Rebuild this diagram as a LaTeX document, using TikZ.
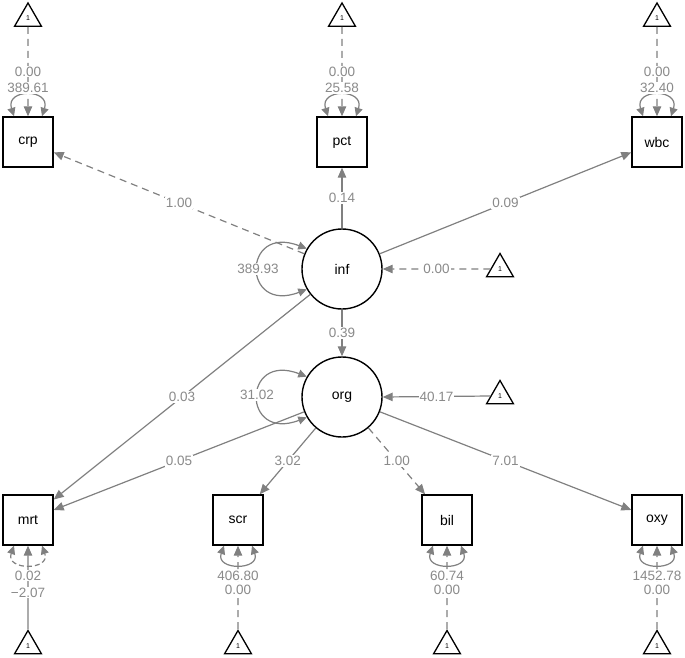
\documentclass[tikz,border=0pt]{standalone}
\usepackage{fontspec}
\setmainfont{Liberation Sans}
\usetikzlibrary{arrows.meta,shapes.geometric}
\definecolor{eg}{RGB}{128,128,128}
\definecolor{lg}{RGB}{138,138,138}
\begin{document}
\begin{tikzpicture}[x=1pt,y=-1pt,
  man/.style={draw=black, line width=1.4pt, minimum width=50pt, minimum height=50pt, inner sep=0pt, font=\fontsize{14}{16}\selectfont},
  lat/.style={circle, draw=black, line width=1.4pt, minimum size=80pt, inner sep=0pt, font=\fontsize{14}{16}\selectfont},
  tri/.style={regular polygon, regular polygon sides=3, draw=black, line width=1.3pt, minimum size=31pt, inner sep=0pt, font=\fontsize{7}{8}\selectfont},
  edge/.style={draw=eg, line width=1.2pt, -{Triangle[length=10pt,width=8.5pt]}},
  fixed/.style={dash pattern=on 7pt off 5pt},
  var/.style={draw=eg, line width=1.2pt, {Triangle[length=8.5pt,width=8pt]}-{Triangle[length=8.5pt,width=8pt]}},
  lab/.style={fill=white, text=lg, inner sep=1pt, font=\fontsize{13.5}{15}\selectfont}
]
\useasboundingbox (0,0) rectangle (685,658);

% manifest variables
\node[man] (crp) at (28,142) {crp};
\node[man] (pct) at (342,142) {pct};
\node[man] (wbc) at (657,142) {wbc};
\node[man] (mrt) at (28,520) {mrt};
\node[man] (scr) at (238,520) {scr};
\node[man] (bil) at (447,520) {bil};
\node[man] (oxy) at (657,520) {oxy};

% latent variables
\node[lat] (inf) at (342,269) {inf};
\node[lat] (org) at (342,397) {org};

% intercept triangles
\node[tri] (tcrp) at (28,18.5) {1};
\node[tri] (tpct) at (342,18.5) {1};
\node[tri] (twbc) at (657,18.5) {1};
\node[tri] (tinf) at (500,269) {1};
\node[tri] (torg) at (500,396) {1};
\node[tri] (tmrt) at (28,646) {1};
\node[tri] (tscr) at (238,646) {1};
\node[tri] (tbil) at (447,646) {1};
\node[tri] (toxy) at (657,646) {1};

% variance arcs on manifest variables (top)
\foreach \v in {crp,pct,wbc}{
  \draw[var] ([xshift=-14pt]\v.north) .. controls +(-9,-28) and +(9,-28) .. ([xshift=14pt]\v.north);
}
% bottom
\draw[var, dash pattern=on 5pt off 3pt] ([xshift=-14pt]mrt.south) .. controls +(-9,25) and +(9,25) .. ([xshift=14pt]mrt.south);
\foreach \v in {scr,bil,oxy}{
  \draw[var] ([xshift=-14pt]\v.south) .. controls +(-9,25) and +(9,25) .. ([xshift=14pt]\v.south);
}

% latent variance loops
\draw[var] (inf.150) .. controls +(-65,-25) and +(-65,25) .. (inf.210);
\draw[var] (org.150) .. controls +(-65,-25) and +(-65,25) .. (org.210);

% intercepts of manifest variables
\draw[edge,fixed] (tcrp.south) -- node[lab]{0.00} (crp.north);
\draw[edge,fixed] (tpct.south) -- node[lab]{0.00} (pct.north);
\draw[edge,fixed] (twbc.south) -- node[lab]{0.00} (wbc.north);
\draw[edge] (tmrt.north) -- node[lab,pos=0.44]{−2.07} (mrt.south);
\draw[edge,fixed] (tscr.north) -- node[lab,pos=0.47]{0.00} (scr.south);
\draw[edge,fixed] (tbil.north) -- node[lab,pos=0.47]{0.00} (bil.south);
\draw[edge,fixed] (toxy.north) -- node[lab,pos=0.47]{0.00} (oxy.south);

% variance labels
\node[lab] (vcrp) at ([yshift=28pt]crp.north) {389.61};
\node[lab] (vpct) at ([yshift=28pt]pct.north) {25.58};
\node[lab] (vwbc) at ([yshift=28pt]wbc.north) {32.40};
\node[lab] (vmrt) at ([yshift=-30pt]mrt.south) {0.02};
\node[lab] (vscr) at ([yshift=-30pt]scr.south) {406.80};
\node[lab] (vbil) at ([yshift=-30pt]bil.south) {60.74};
\node[lab] (voxy) at ([yshift=-30pt]oxy.south) {1452.78};

% latent intercepts
\draw[edge,fixed] (tinf.west) -- node[lab]{0.00} (inf.east);
\draw[edge] (torg.west) -- node[lab]{40.17} (org.east);

% loadings and regressions
\draw[edge,fixed] (inf) -- node[lab]{1.00} (crp);
\draw[edge] (inf) -- node[lab]{0.14} (pct);
\draw[edge] (inf) -- node[lab]{0.09} (wbc);
\draw[edge] (inf) -- node[lab]{0.39} (org);
\draw[edge] (inf) -- node[lab]{0.03} (mrt);
\draw[edge] (org) -- node[lab]{0.05} (mrt);
\draw[edge] (org) -- node[lab]{3.02} (scr);
\draw[edge,fixed] (org) -- node[lab]{1.00} (bil);
\draw[edge] (org) -- node[lab]{7.01} (oxy);

% latent variance labels
\node[lab] (vinf) at ([xshift=-84pt]inf.center) {389.93};
\node[lab] (vorg) at ([xshift=-85pt,yshift=2pt]org.center) {31.02};
\end{tikzpicture}
\end{document}
